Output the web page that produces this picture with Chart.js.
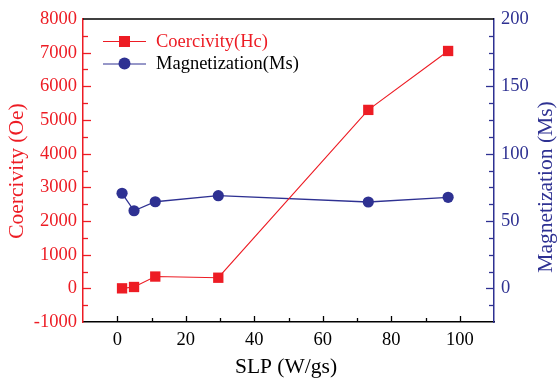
<!DOCTYPE html>
<html><head><meta charset="utf-8">
<script src="https://cdn.jsdelivr.net/npm/chart.js@4/dist/chart.umd.min.js"></script>
<style>html,body{margin:0;padding:0;background:#fff}#wrap{width:557px;height:382px;position:relative}</style>
</head><body><div id="wrap"><canvas id="c" width="557" height="382"></canvas></div>
<script>
const slp = [1.4, 4.9, 11.1, 29.5, 73.3, 96.6];
const coercivity = [0, 40, 350, 315, 5300, 7050];
const magnetization = [70.6, 57.6, 64.3, 68.8, 64.1, 67.6];
const xTicks = [0, 20, 40, 60, 80, 100];
const hcTicks = [-1000, 0, 1000, 2000, 3000, 4000, 5000, 6000, 7000, 8000];
const msTicks = [0, 50, 100, 150, 200];
const seriesNames = ['Coercivity(Hc)', 'Magnetization(Ms)'];
const axisTitles = ['SLP (W/gs)', 'Coercivity (Oe)', 'Magnetization (Ms)'];

const RED = '#ed1c24', NAVY = '#2e3192', FONT = 'Liberation Serif';
Chart.defaults.font.family = FONT;

const tickPlugin = {
  id: 'ticksIn',
  afterDraw(chart) {
    const ctx = chart.ctx, a = chart.chartArea;
    const sx = chart.scales.x, sy = chart.scales.y, sy2 = chart.scales.y2;
    ctx.save();
    ctx.strokeStyle = '#000'; ctx.lineWidth = 1.5;
    ctx.beginPath(); ctx.moveTo(a.left, a.top); ctx.lineTo(a.right, a.top); ctx.stroke();
    ctx.lineWidth = 1.3;
    for (let v = 0; v <= 100; v += 10) {
      const px = Math.round(sx.getPixelForValue(v)) + 0.5;
      const len = (v % 20 === 0) ? 6 : 4;
      ctx.beginPath(); ctx.moveTo(px, a.bottom); ctx.lineTo(px, a.bottom - len); ctx.stroke();
    }
    ctx.strokeStyle = RED;
    for (let v = -500; v <= 7500; v += 500) {
      const py = Math.round(sy.getPixelForValue(v)) + 0.5;
      const len = (v % 1000 === 0) ? 8 : 5;
      ctx.beginPath(); ctx.moveTo(a.left, py); ctx.lineTo(a.left + len, py); ctx.stroke();
    }
    ctx.strokeStyle = NAVY;
    for (let v = -12.5; v < 200; v += 12.5) {
      const py = Math.round(sy2.getPixelForValue(v)) + 0.5;
      const len = (v % 50 === 0) ? 8 : 5;
      ctx.beginPath(); ctx.moveTo(a.right, py); ctx.lineTo(a.right - len, py); ctx.stroke();
    }
    // axis titles
    ctx.textAlign = 'center'; ctx.textBaseline = 'middle';
    ctx.font = '21.5px ' + FONT;
    ctx.fillStyle = '#000';
    ctx.fillText(axisTitles[0], 286, 367);
    ctx.save(); ctx.translate(17, 171); ctx.rotate(-Math.PI / 2);
    ctx.fillStyle = RED; ctx.fillText(axisTitles[1], 0, 0); ctx.restore();
    ctx.save(); ctx.translate(546, 187); ctx.rotate(-Math.PI / 2);
    ctx.fillStyle = NAVY; ctx.fillText(axisTitles[2], 0, 0); ctx.restore();
    // legend
    const items = [
      {name: seriesNames[0], color: RED, text: RED, shape: 'rect'},
      {name: seriesNames[1], color: NAVY, text: '#000', shape: 'circle'}
    ];
    items.forEach((it, i) => {
      const y = 41 + i * 22.5;
      ctx.strokeStyle = it.color; ctx.lineWidth = 1;
      ctx.beginPath(); ctx.moveTo(103, y + 0.5); ctx.lineTo(146, y + 0.5); ctx.stroke();
      ctx.fillStyle = it.color;
      if (it.shape === 'rect') ctx.fillRect(119, y - 5, 11, 11);
      else { ctx.beginPath(); ctx.arc(124.5, y, 6, 0, Math.PI * 2); ctx.fill(); }
      ctx.fillStyle = it.text; ctx.font = '18.5px ' + FONT;
      ctx.textBaseline = 'middle'; ctx.textAlign = 'left';
      ctx.fillText(it.name, 156, y + 1);
    });
    ctx.restore();
  }
};

const plain = v => String(v);

new Chart(document.getElementById('c'), {
  type: 'scatter',
  data: {
    datasets: [
      {label: seriesNames[0], data: slp.map((x, i) => ({x, y: coercivity[i]})), yAxisID: 'y',
       showLine: true, borderColor: RED, backgroundColor: RED, borderWidth: 1.1,
       pointStyle: 'rect', pointRadius: 7.3, pointHoverRadius: 7.3, pointBorderWidth: 0},
      {label: seriesNames[1], data: slp.map((x, i) => ({x, y: magnetization[i]})), yAxisID: 'y2',
       showLine: true, borderColor: NAVY, backgroundColor: NAVY, borderWidth: 1.3,
       pointStyle: 'circle', pointRadius: 5.6, pointHoverRadius: 5.6, pointBorderWidth: 0}
    ]
  },
  options: {
    responsive: false, animation: false, devicePixelRatio: 1,
    layout: {padding: {top: 19, left: 0, right: 0, bottom: 0}},
    plugins: {legend: {display: false}, tooltip: {enabled: false}},
    scales: {
      x: {
        type: 'linear', min: -10, max: 110,
        afterBuildTicks: s => { s.ticks = xTicks.map(v => ({value: v})); },
        afterFit: s => { s.height = 60; },
        grid: {display: false, drawTicks: false},
        border: {display: true, color: '#000', width: 1.5},
        ticks: {color: '#000', font: {family: FONT, size: 18.5}, padding: 7, callback: plain}
      },
      y: {
        type: 'linear', position: 'left', min: -1000, max: 8000,
        afterBuildTicks: s => { s.ticks = hcTicks.map(v => ({value: v})); },
        afterFit: s => { s.width = 83; },
        grid: {display: false, drawTicks: false},
        border: {display: true, color: RED, width: 1.5},
        ticks: {color: RED, font: {family: FONT, size: 18.5}, padding: 6, callback: plain}
      },
      y2: {
        type: 'linear', position: 'right', min: -25, max: 200,
        afterBuildTicks: s => { s.ticks = msTicks.map(v => ({value: v})); },
        afterFit: s => { s.width = 63; },
        grid: {display: false, drawTicks: false},
        border: {display: true, color: NAVY, width: 1.5},
        ticks: {color: NAVY, font: {family: FONT, size: 18.5}, padding: 7, callback: plain}
      }
    }
  },
  plugins: [tickPlugin]
});
</script></body></html>
